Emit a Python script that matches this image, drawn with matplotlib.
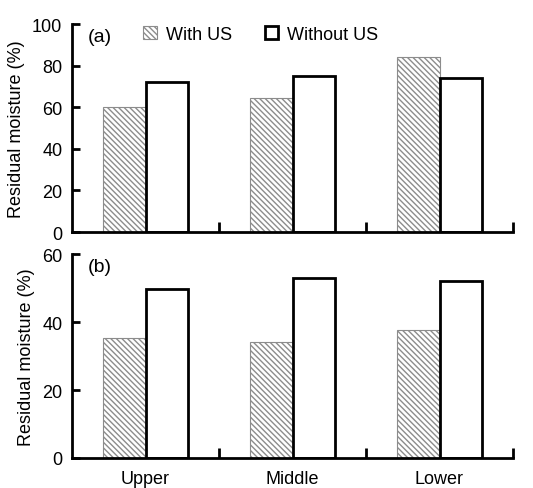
import numpy as np
import matplotlib.pyplot as plt

plt.rcParams['font.family'] = ['Liberation Sans', 'DejaVu Sans']
plt.rcParams['font.size'] = 13
plt.rcParams['hatch.color'] = '#8c8c8c'
plt.rcParams['hatch.linewidth'] = 1.0

# Data
positions = ['Upper', 'Middle', 'Lower']
with_us_a = [60, 64.5, 84]
without_us_a = [72, 74.8, 74]
with_us_b = [35.3, 34.2, 37.6]
without_us_b = [49.7, 53, 52]

x = np.arange(len(positions))
w = 0.29

fig = plt.figure(figsize=(5.33, 4.89), dpi=100)
ax1 = fig.add_axes([72/533, 1 - 233/489, 441/533, 208/489])
ax2 = fig.add_axes([72/533, 1 - 459/489, 441/533, 204/489])


def draw(ax, a, b, ymax, step, label):
    h1 = ax.bar(x - w/2, a, w, color='white', edgecolor='#8c8c8c', linewidth=0.8,
                hatch='\\\\\\\\\\\\', label='With US')
    h2 = ax.bar(x + w/2, b, w, color='white', edgecolor='black', linewidth=2,
                label='Without US')
    ax.set_xlim(-0.5, 2.5)
    ax.set_ylim(0, ymax)
    ax.set_yticks(np.arange(0, ymax + 1, step))
    ax.set_xticks([0.5, 1.5, 2.5])
    ax.set_xticklabels([])
    ax.tick_params(axis='both', direction='in', width=2, length=6, pad=7)
    ax.tick_params(axis='x', length=7)
    for s in ['top', 'right']:
        ax.spines[s].set_visible(False)
    for s in ['left', 'bottom']:
        ax.spines[s].set_linewidth(2)
    ax.set_ylabel('Residual moisture (%)', labelpad=5)
    ax.text(0.035, 0.98, label, transform=ax.transAxes, va='top', ha='left', fontsize=14)
    return h1, h2


h1, h2 = draw(ax1, with_us_a, without_us_a, 100, 20, '(a)')
draw(ax2, with_us_b, without_us_b, 60, 20, '(b)')

ax1.legend(handles=[h1, h2], loc='upper left', bbox_to_anchor=(0.125, 1.07), ncol=2,
           frameon=False, handlelength=0.75, handleheight=0.75, columnspacing=1.8,
           handletextpad=0.5, fontsize=13)

for xi, name in zip(x, positions):
    ax2.text(xi, -0.06, name, transform=ax2.get_xaxis_transform(),
             ha='center', va='top', fontsize=13)

fig.savefig('out.png', dpi=100)
